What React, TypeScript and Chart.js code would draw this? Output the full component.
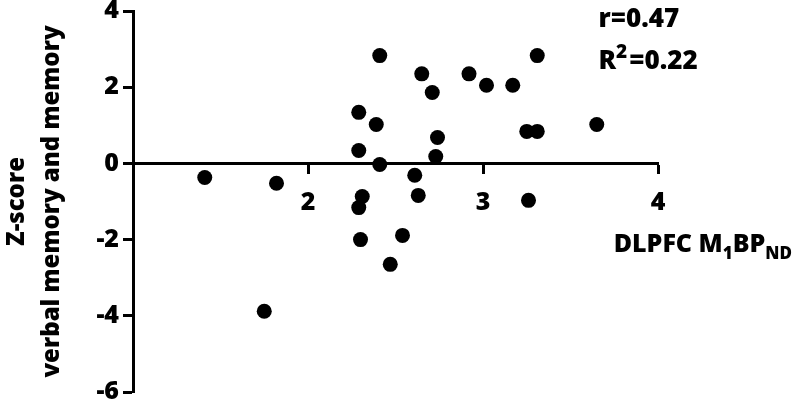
import React, { useEffect, useRef } from "react";
import { Chart, registerables } from "chart.js";
Chart.register(...registerables);

const xValues = [1.41, 1.82, 1.75, 2.29, 2.39, 2.29, 2.41, 2.41, 2.61, 2.63, 2.31, 2.29, 2.30, 2.54, 2.47, 2.73, 2.65, 2.71, 2.74, 2.92, 3.02, 3.17, 3.31, 3.25, 3.31, 3.65, 3.26];
const yValues = [-0.37, -0.52, -3.88, 1.34, 1.02, 0.34, 2.83, -0.03, -0.31, -0.84, -0.87, -1.16, -2.0, -1.89, -2.65, 0.18, 2.35, 1.86, 0.68, 2.35, 2.05, 2.05, 2.83, 0.84, 0.84, 1.02, -0.97];
const xTicks = [2, 3, 4];
const yTickStep = 2;
const xRange = [1, 4];
const yRange = [-6, 4];
const yTitle = ["Z-score", "verbal memory and memory"];
// kind: 0 normal, 1 subscript, 2 superscript
const xTitleParts: [string, number][] = [["DLPFC M", 0], ["1", 1], ["BP", 0], ["ND", 1]];
const statLine1: [string, number][] = [["r=0.47", 0]];
const statLine2: [string, number][] = [["R", 0], ["2", 2], ["=0.22", 0]];

const FONT = "'Open Sans', sans-serif";
const WEIGHT = 800;

function drawRich(ctx: CanvasRenderingContext2D, parts: [string, number][], x: number, y: number, size: number, alignRight: boolean, smallFactor: number) {
  const small = Math.round(size * smallFactor);
  const widthOf = (p: [string, number]) => {
    ctx.font = `${WEIGHT} ${p[1] === 0 ? size : small}px ${FONT}`;
    return ctx.measureText(p[0]).width;
  };
  let total = 0;
  parts.forEach((p) => (total += widthOf(p)));
  let cx = alignRight ? x - total : x;
  ctx.textBaseline = "alphabetic";
  ctx.textAlign = "left";
  ctx.fillStyle = "#000";
  parts.forEach((p) => {
    const w = widthOf(p);
    const dy = p[1] === 1 ? size * 0.28 : p[1] === 2 ? -size * 0.42 : 0;
    ctx.fillText(p[0], cx, y + dy);
    cx += w + (p[1] === 2 ? 2 : 0);
  });
}

const textPlugin = {
  id: "richText",
  afterDraw(chart: any) {
    const ctx = chart.ctx as CanvasRenderingContext2D;
    const xs = chart.scales.x;
    const ys = chart.scales.y;
    ctx.save();
    drawRich(ctx, xTitleParts, chart.width - 3, ys.getPixelForValue(0) + 89, 25, true, 0.68);
    drawRich(ctx, statLine1, xs.getPixelForValue(3.66), 27, 26, false, 0.72);
    drawRich(ctx, statLine2, xs.getPixelForValue(3.66), 69, 26, false, 0.72);
    ctx.restore();
  },
};

export default function App() {
  const ref = useRef<HTMLCanvasElement | null>(null);
  useEffect(() => {
    document.body.style.margin = "0";
    const data = xValues.map((x, i) => ({ x, y: yValues[i] }));
    const chart = new Chart(ref.current!, {
      type: "scatter",
      data: {
        datasets: [
          {
            data,
            backgroundColor: "#000",
            borderWidth: 0,
            pointRadius: 7.5,
            pointHoverRadius: 7.5,
          },
        ],
      },
      options: {
        animation: false,
        responsive: true,
        maintainAspectRatio: false,
        events: [],
        layout: { padding: { left: 0, top: 11, right: 137, bottom: 15 } },
        plugins: { legend: { display: false }, tooltip: { enabled: false } },
        scales: {
          x: {
            type: "linear",
            position: { y: 0 } as any,
            min: xRange[0],
            max: xRange[1],
            afterBuildTicks: (scale: any) => {
              scale.ticks = xTicks.map((v) => ({ value: v }));
            },
            afterFit: (scale: any) => {
              scale.paddingLeft = 0;
              scale.paddingRight = 0;
            },
            grid: { drawOnChartArea: false, drawTicks: true, tickLength: 9, tickWidth: 3, tickColor: "#000", color: "#000" },
            border: { display: true, color: "#000", width: 3 },
            ticks: { color: "#000", padding: 15, font: { family: FONT, size: 25, weight: WEIGHT as any } },
          },
          y: {
            type: "linear",
            position: "left",
            min: yRange[0],
            max: yRange[1],
            ticks: { stepSize: yTickStep, color: "#000", padding: 4, font: { family: FONT, size: 25, weight: WEIGHT as any } },
            afterFit: (scale: any) => {
              scale.width = 133;
              scale.paddingTop = 0;
              scale.paddingBottom = 0;
            },
            grid: { drawOnChartArea: false, drawTicks: true, tickLength: 10, tickWidth: 3, tickColor: "#000", color: "#000" },
            border: { display: true, color: "#000", width: 3 },
            title: {
              display: true,
              text: yTitle,
              color: "#000",
              padding: { top: 0, bottom: 0 },
              font: { family: FONT, size: 24, weight: WEIGHT as any, lineHeight: 1.45 },
            },
          },
        },
      },
      plugins: [textPlugin],
    });
    return () => chart.destroy();
  }, []);
  return (
    <div style={{ position: "fixed", left: 0, top: 0, width: 795, height: 407 }}>
      <canvas ref={ref} />
    </div>
  );
}
